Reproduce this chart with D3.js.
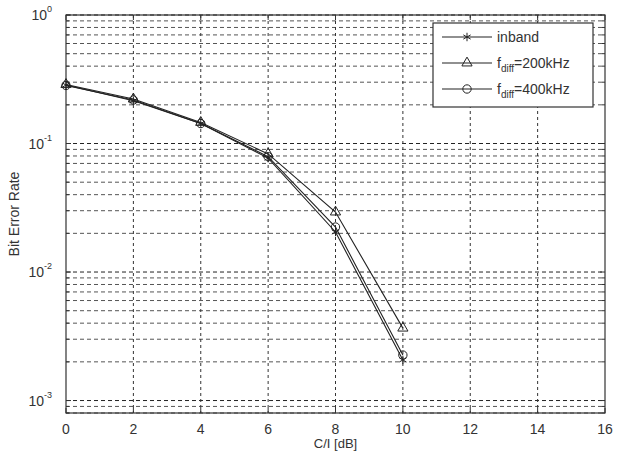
<!DOCTYPE html>
<html>
<head>
<meta charset="utf-8">
<script src="https://cdn.jsdelivr.net/npm/d3@7"></script>
<style>
  body { margin: 0; background: #fff; }
  svg { display: block; font-family: "Liberation Sans", Arial, sans-serif; }
</style>
</head>
<body>
<div id="chart"></div>
<script>
// ---- data ----
const snrDb = [0, 2, 4, 6, 8, 10];
const berInband = [0.285, 0.215, 0.143, 0.077, 0.0205, 0.00207];
const ber200k = [0.288, 0.222, 0.146, 0.083, 0.0293, 0.00366];
const ber400k = [0.283, 0.218, 0.143, 0.079, 0.0224, 0.00226];
const seriesNames = ["inband", "200kHz", "400kHz"];
const xTicks = [0, 2, 4, 6, 8, 10, 12, 14, 16];
const yDecades = [0, -1, -2, -3];

const width = 618, height = 452;
const margin = { top: 15, right: 13, bottom: 39, left: 66 };
const w = width - margin.left - margin.right;
const h = height - margin.top - margin.bottom;

const svg = d3.select("#chart").append("svg")
  .attr("width", width)
  .attr("height", height);

const g = svg.append("g")
  .attr("transform", `translate(${margin.left},${margin.top})`);

const x = d3.scaleLinear().domain([0, 16]).range([0, w]);
const y = d3.scaleLog().domain([8e-4, 1]).range([h, 0]);

// minor grid (2..9 of each decade)
const minor = [];
[-4, -3, -2, -1].forEach(e => {
  for (let k = 2; k <= 9; k++) {
    const v = k * Math.pow(10, e);
    if (v >= 8e-4 && v < 1) minor.push(v);
  }
});

g.selectAll(".gminor")
  .data(minor)
  .join("line")
  .attr("x1", 0).attr("x2", w)
  .attr("y1", d => y(d)).attr("y2", d => y(d))
  .attr("stroke", "#555")
  .attr("stroke-width", 1)
  .attr("stroke-dasharray", "4,3");

g.selectAll(".gmajor")
  .data(yDecades)
  .join("line")
  .attr("x1", 0).attr("x2", w)
  .attr("y1", d => y(Math.pow(10, d))).attr("y2", d => y(Math.pow(10, d)))
  .attr("stroke", "#222")
  .attr("stroke-width", 1)
  .attr("stroke-dasharray", "4,3");

g.selectAll(".gx")
  .data(xTicks.slice(1, -1))
  .join("line")
  .attr("x1", d => x(d)).attr("x2", d => x(d))
  .attr("y1", 0).attr("y2", h)
  .attr("stroke", "#333")
  .attr("stroke-width", 1)
  .attr("stroke-dasharray", "3,3");

// ticks inside the box
const tickLen = 5;
xTicks.forEach(t => {
  g.append("line").attr("x1", x(t)).attr("x2", x(t)).attr("y1", h).attr("y2", h - tickLen)
    .attr("stroke", "#333");
  g.append("line").attr("x1", x(t)).attr("x2", x(t)).attr("y1", 0).attr("y2", tickLen)
    .attr("stroke", "#333");
});
minor.concat(yDecades.map(d => Math.pow(10, d))).forEach(v => {
  const len = minor.includes(v) ? 3 : tickLen;
  g.append("line").attr("x1", 0).attr("x2", len).attr("y1", y(v)).attr("y2", y(v))
    .attr("stroke", "#333");
  g.append("line").attr("x1", w).attr("x2", w - len).attr("y1", y(v)).attr("y2", y(v))
    .attr("stroke", "#333");
});

// box
g.append("rect")
  .attr("width", w).attr("height", h)
  .attr("fill", "none")
  .attr("stroke", "#333")
  .attr("stroke-width", 1.2);

// tick labels
g.selectAll(".xl")
  .data(xTicks)
  .join("text")
  .attr("x", d => x(d))
  .attr("y", h + 21)
  .attr("text-anchor", "middle")
  .attr("font-size", 14)
  .attr("fill", "#333")
  .text(d => d);

const yl = g.selectAll(".yl")
  .data(yDecades)
  .join("text")
  .attr("x", -14)
  .attr("y", d => y(Math.pow(10, d)) + 5)
  .attr("text-anchor", "end")
  .attr("font-size", 14)
  .attr("fill", "#333");
yl.append("tspan").text("10");
yl.append("tspan")
  .attr("dy", -8)
  .attr("font-size", 9)
  .text(d => d);

// axis titles
svg.append("text")
  .attr("transform", `translate(19,${margin.top + h / 2}) rotate(-90)`)
  .attr("text-anchor", "middle")
  .attr("font-size", 14)
  .attr("fill", "#333")
  .text("Bit Error Rate");

svg.append("text")
  .attr("x", margin.left + w / 2)
  .attr("y", height - 4)
  .attr("text-anchor", "middle")
  .attr("font-size", 13)
  .attr("fill", "#333")
  .text("C/I [dB]");

// series
const allSeries = [berInband, ber200k, ber400k];
const symbols = [d3.symbolAsterisk, d3.symbolTriangle, d3.symbolCircle];
const symSize = [50, 45, 55];

const line = d3.line()
  .x((d, i) => x(snrDb[i]))
  .y(d => y(d));

allSeries.forEach((s, k) => {
  g.append("path")
    .datum(s)
    .attr("fill", "none")
    .attr("stroke", "#222")
    .attr("stroke-width", 1.1)
    .attr("d", line);
  g.selectAll(".m" + k)
    .data(s)
    .join("path")
    .attr("transform", (d, i) => `translate(${x(snrDb[i])},${y(d)})`)
    .attr("d", d3.symbol(symbols[k], symSize[k]))
    .attr("fill", "none")
    .attr("stroke", "#222")
    .attr("stroke-width", 1);
});

// legend
const lg = svg.append("g").attr("transform", "translate(433,23)");
lg.append("rect")
  .attr("width", 160).attr("height", 84)
  .attr("fill", "#fff")
  .attr("stroke", "#333")
  .attr("stroke-width", 1.2);

seriesNames.forEach((name, k) => {
  const ly = 14 + k * 26;
  lg.append("line")
    .attr("x1", 9).attr("x2", 59).attr("y1", ly).attr("y2", ly)
    .attr("stroke", "#222").attr("stroke-width", 1.1);
  lg.append("path")
    .attr("transform", `translate(34,${ly})`)
    .attr("d", d3.symbol(symbols[k], symSize[k]))
    .attr("fill", "none")
    .attr("stroke", "#222");
  const t = lg.append("text")
    .attr("x", 64)
    .attr("y", ly + 5)
    .attr("font-size", 14)
    .attr("fill", "#333");
  if (k === 0) {
    t.text(name);
  } else {
    t.append("tspan").text("f");
    t.append("tspan").attr("dy", 4).attr("font-size", 10).text("diff");
    t.append("tspan").attr("dy", -4).text("=" + name);
  }
});
</script>
</body>
</html>
